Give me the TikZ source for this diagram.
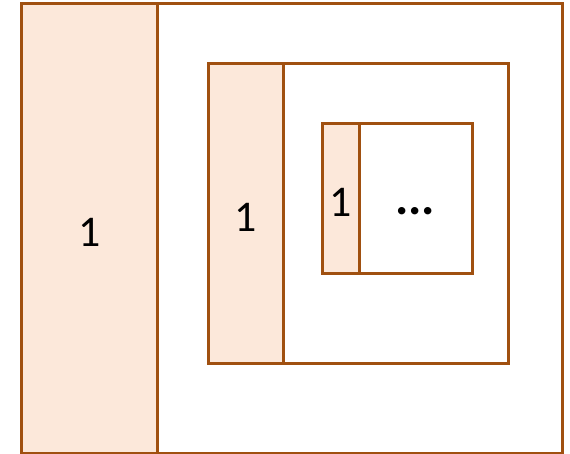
\documentclass[tikz,border=0pt]{standalone}
\usepackage{fontspec}
\setmainfont{Carlito}
\definecolor{framebrown}{RGB}{160,80,16}
\definecolor{stripfill}{RGB}{252,232,218}
\begin{document}
\begin{tikzpicture}[x=1bp, y=-1bp,
  every node/.style={inner sep=0pt, font=\fontsize{44}{48}\selectfont},
  box/.style={draw=framebrown, line width=3bp},
  strip/.style={box, fill=stripfill}
]
\useasboundingbox (0,0) rectangle (570,454);
\node[box, minimum width=540bp, minimum height=449bp] (outer) at (292,228.5) {};
\node[strip, minimum width=135bp, minimum height=449bp] (outerone) at (89.5,228.5) {};
\node (outertext) at (89.5,232) {1};
\node[box, minimum width=300bp, minimum height=299bp] (middle) at (358,213.5) {};
\node[strip, minimum width=75bp, minimum height=299bp] (middleone) at (245.5,213.5) {};
\node (middletext) at (245.5,217) {1};
\node[box, minimum width=150bp, minimum height=149bp] (inner) at (397,198.5) {};
\node[strip, minimum width=37bp, minimum height=149bp] (innerone) at (340.5,198.5) {};
\node (innertext) at (340.5,202) {1};
\node[font=\fontsize{50}{54}\selectfont\bfseries] (rest) at (415,211) {...};
\end{tikzpicture}
\end{document}
